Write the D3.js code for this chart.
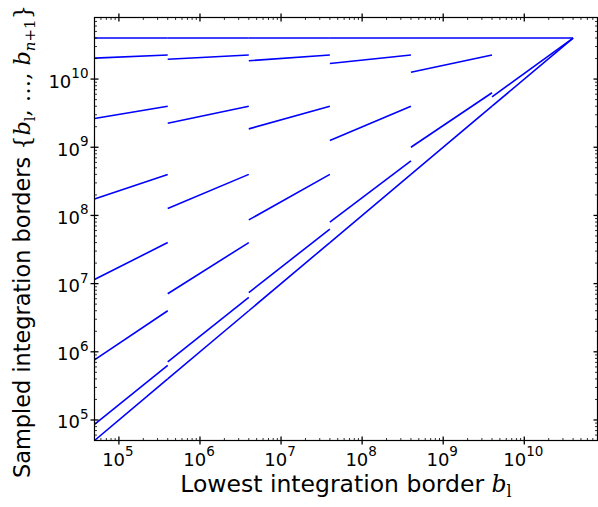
<!DOCTYPE html>
<html>
<head>
<meta charset="utf-8">
<script src="https://cdn.jsdelivr.net/npm/d3@7"></script>
<style>
  body { margin: 0; background: #fff; }
  text { font-family: "DejaVu Sans", sans-serif; fill: #000; }
  .math { font-family: "DejaVu Serif", serif; }
</style>
</head>
<body>
<svg id="chart" width="598" height="507"></svg>
<script>
// Lowest integration border b_l: each piece of the sampling runs from one start value to the next
const lowestBorderStart = [5e4, 4e5, 4e6, 4e7, 4e8, 4e9];
const lowestBorderEnd   = [4e5, 4e6, 4e7, 4e8, 4e9, 4e10];

// Sampled borders {b_l, ..., b_{n+1}} at the start of each piece
const bordersAtStart = [
  [5e4, 8.6e4, 7.6e5, 1.15e7, 1.74e8, 2.64e9, 2.03e10, 4e10],
  [4e5, 7.1e5, 7.1e6, 1.26e8, 2.25e9, 1.95e10, 4e10],
  [4e6, 7.4e6, 8.6e7, 1.86e9, 1.86e10, 4e10],
  [4e7, 8.0e7, 1.26e9, 1.69e10, 4e10],
  [4e8, 1.0e9, 1.26e10, 4e10],
  [4e9, 5.5e9, 4e10]
];

// ... and at the end of each piece
const bordersAtEnd = [
  [4e5, 6.3e5, 4e6, 4e7, 4e8, 4e9, 2.25e10, 4e10],
  [4e6, 6.3e6, 4e7, 4e8, 4e9, 2.25e10, 4e10],
  [4e7, 6.3e7, 4e8, 4e9, 2.25e10, 4e10],
  [4e8, 6.3e8, 4e9, 2.25e10, 4e10],
  [4e9, 6.3e9, 2.25e10, 4e10],
  [4e10, 4e10, 4e10]
];

const axisDomain = [5e4, 8e10];
const decadeExponents = [5, 6, 7, 8, 9, 10];

(function draw() {
  const svg = d3.select("#chart");
  const pLeft = 94.5, pRight = 597.5, pTop = 17.5, pBottom = 440.5;

  const x = d3.scaleLog().domain(axisDomain).range([pLeft, pRight]);
  const y = d3.scaleLog().domain(axisDomain).range([pBottom, pTop]);

  svg.append("clipPath").attr("id", "plot-clip")
    .append("rect").attr("x", pLeft).attr("y", pTop)
    .attr("width", pRight - pLeft).attr("height", pBottom - pTop);

  // Border curves
  const line = d3.line().x(d => x(d[0])).y(d => y(d[1]));
  const curves = [];
  lowestBorderStart.forEach((x0, i) => {
    bordersAtStart[i].forEach((b0, j) => {
      curves.push([[x0, b0], [lowestBorderEnd[i], bordersAtEnd[i][j]]]);
    });
  });

  svg.append("g").attr("clip-path", "url(#plot-clip)")
    .selectAll("path").data(curves).join("path")
    .attr("d", line)
    .attr("fill", "none")
    .attr("stroke", "#0000ff")
    .attr("stroke-width", 1.6);

  // Frame
  svg.append("rect")
    .attr("x", pLeft).attr("y", pTop)
    .attr("width", pRight - pLeft).attr("height", pBottom - pTop)
    .attr("fill", "none").attr("stroke", "#000").attr("stroke-width", 1.2);

  // Ticks on all four sides
  const majorVals = decadeExponents.map(e => Math.pow(10, e));
  const minorVals = [];
  for (let e = 4; e <= 10; e++) {
    for (let m = 2; m <= 9; m++) {
      const v = m * Math.pow(10, e);
      if (v >= axisDomain[0] && v <= axisDomain[1]) minorVals.push(v);
    }
  }
  const ticks = svg.append("g").attr("stroke", "#000");
  majorVals.forEach(v => {
    const px = x(v), py = y(v);
    ticks.append("line").attr("x1", px).attr("x2", px).attr("y1", pBottom - 4).attr("y2", pBottom + 4).attr("stroke-width", 1.3);
    ticks.append("line").attr("x1", px).attr("x2", px).attr("y1", pTop - 4).attr("y2", pTop + 4).attr("stroke-width", 1.3);
    ticks.append("line").attr("y1", py).attr("y2", py).attr("x1", pLeft - 4).attr("x2", pLeft + 4).attr("stroke-width", 1.3);
    ticks.append("line").attr("y1", py).attr("y2", py).attr("x1", pRight - 4).attr("x2", pRight + 4).attr("stroke-width", 1.3);
  });
  minorVals.forEach(v => {
    const px = x(v), py = y(v);
    ticks.append("line").attr("x1", px).attr("x2", px).attr("y1", pBottom - 2.5).attr("y2", pBottom).attr("stroke-width", 0.8);
    ticks.append("line").attr("x1", px).attr("x2", px).attr("y1", pTop).attr("y2", pTop + 2.5).attr("stroke-width", 0.8);
    ticks.append("line").attr("y1", py).attr("y2", py).attr("x1", pLeft).attr("x2", pLeft + 2.5).attr("stroke-width", 0.8);
    ticks.append("line").attr("y1", py).attr("y2", py).attr("x1", pRight - 2.5).attr("x2", pRight).attr("stroke-width", 0.8);
  });

  // Tick labels 10^k
  function powerLabel(sel, e) {
    sel.append("tspan").text("10");
    sel.append("tspan").attr("font-size", 13.5).attr("dy", -9.5).text(e);
  }
  decadeExponents.forEach(e => {
    const v = Math.pow(10, e);
    svg.append("text")
      .attr("x", x(v) - 1).attr("y", 465.5)
      .attr("text-anchor", "middle").attr("font-size", 18)
      .call(powerLabel, e);
    svg.append("text")
      .attr("x", 88.5).attr("y", y(v) + 8.5)
      .attr("text-anchor", "end").attr("font-size", 18)
      .call(powerLabel, e);
  });

  // Axis titles
  const xt = svg.append("text")
    .attr("x", 346).attr("y", 491.5)
    .attr("text-anchor", "middle").attr("font-size", 23.5);
  xt.append("tspan").text("Lowest integration border ");
  xt.append("tspan").attr("class", "math").attr("font-style", "italic").text("b");
  xt.append("tspan").attr("class", "math").attr("font-size", 16).attr("dy", 5).text("l");

  const yt = svg.append("text")
    .attr("transform", "translate(30,241.5) rotate(-90)")
    .attr("text-anchor", "middle").attr("font-size", 22.4);
  yt.append("tspan").text("Sampled integration borders ");
  yt.append("tspan").attr("class", "math").text("{");
  yt.append("tspan").attr("class", "math").attr("font-style", "italic").text("b");
  yt.append("tspan").attr("class", "math").attr("font-size", 15).attr("dy", 5).text("l");
  yt.append("tspan").attr("class", "math").attr("dy", -5).text(", \u2026, ");
  yt.append("tspan").attr("class", "math").attr("font-style", "italic").text("b");
  yt.append("tspan").attr("class", "math").attr("font-size", 15).attr("dy", 5).attr("font-style", "italic").text("n");
  yt.append("tspan").attr("class", "math").attr("font-size", 15).text("+1");
  yt.append("tspan").attr("class", "math").attr("dy", -5).text("}");
})();
</script>
</body>
</html>
